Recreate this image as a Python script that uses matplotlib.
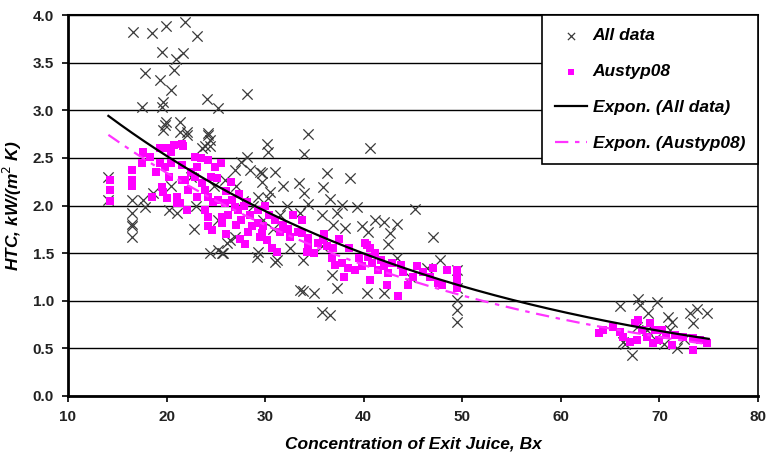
import numpy as np
import matplotlib
matplotlib.use("Agg")
from matplotlib import pyplot as plt

# All data (black crosses)
all_x = [16.6, 18.5, 19.9, 21.9, 23.1, 19.5, 21.7, 21.0, 20.75, 17.8, 19.3, 20.5, 24.1, 25.2, 28.2,
         17.5, 19.6, 19.5, 19.9, 21.4, 19.6, 24.2, 22.1, 24.4, 23.9, 30.2, 30.3, 28.2, 14.1, 14.1,
         16.5, 16.5, 17.6, 16.5, 16.5, 24.4, 25.2, 25.7, 26.4, 29.2, 29.3, 31.0, 33.5, 34.4, 33.9,
         36.3, 38.6, 33.4, 35.9, 33.9, 36.6, 34.3, 37.8, 39.3, 45.2, 40.6, 29.5, 31.0, 29.7, 30.5,
         29.3, 30.3, 35.8, 37.3, 36.9, 38.1, 39.8, 40.4, 31.5, 33.5, 31.2, 33.8, 35.8, 36.8, 33.8,
         35.0, 37.3, 40.3, 35.8, 36.6, 41.1, 42.1, 43.4, 42.7, 47.0, 42.5, 43.4, 47.7, 46.4, 44.7,
         42.1, 49.5, 49.5, 49.5, 49.5, 49.5, 66.0, 67.8, 68.0, 69.8, 68.8, 70.9, 71.3, 73.1, 73.8,
         74.8, 73.4, 66.3, 67.2, 71.8, 71.1, 68.7, 67.7, 19.8, 21.4, 22.1, 24.2, 24.4, 23.6, 27.6,
         28.5, 29.7, 26.9, 25.9, 18.6, 21.1, 20.5, 25.2, 26.1, 25.6, 26.9, 16.5, 17.8, 22.5, 23.0,
         24.8, 27.0, 27.8, 28.8, 31.8, 32.2, 30.8, 32.5, 29.8, 66.5, 69.5, 70.5, 72.5, 20.2, 22.8]
all_y = [3.82, 3.81, 3.89, 3.93, 3.78, 3.61, 3.60, 3.54, 3.42, 3.39, 3.32, 3.21, 3.12, 3.02, 3.17,
         3.03, 3.09, 3.03, 2.88, 2.88, 2.79, 2.76, 2.77, 2.69, 2.62, 2.65, 2.56, 2.51, 2.30, 2.06,
         2.06, 1.92, 2.06, 1.81, 1.67, 1.50, 1.53, 1.50, 1.64, 1.46, 1.51, 1.41, 1.11, 2.75, 2.54,
         2.34, 2.29, 2.24, 2.19, 2.13, 2.07, 2.02, 2.01, 1.98, 1.96, 2.60, 2.35, 2.35, 2.25, 2.14,
         2.09, 2.08, 1.90, 1.92, 1.80, 1.76, 1.79, 1.72, 1.90, 1.92, 1.43, 1.43, 1.57, 1.27, 1.10,
         1.08, 1.13, 1.08, 0.88, 0.85, 1.85, 1.83, 1.81, 1.71, 1.67, 1.60, 1.45, 1.43, 1.34, 1.25,
         1.08, 1.32, 1.13, 1.01, 0.90, 0.78, 0.94, 1.02, 0.96, 0.99, 0.87, 0.83, 0.78, 0.87, 0.91,
         0.87, 0.77, 0.57, 0.43, 0.50, 0.69, 0.69, 0.72, 2.85, 2.77, 2.74, 2.74, 2.63, 2.60, 2.46,
         2.37, 2.34, 2.37, 2.27, 2.13, 1.92, 2.20, 1.85, 1.61, 1.50, 1.67, 1.78, 1.98, 2.30, 2.00,
         2.20, 2.20, 2.05, 2.00, 2.20, 2.00, 1.75, 1.55, 1.85, 0.55, 0.60, 0.55, 0.60, 1.95, 1.75]

# Austyp08 (magenta squares)
aus_x = [14.3, 14.3, 14.3, 16.5, 16.5, 16.5, 17.5, 17.6, 18.3, 19.3, 19.5, 20.5, 20.8, 21.7, 19.8,
         19.5, 19.6, 18.5, 20.0, 21.1, 21.1, 21.6, 21.9, 20.5, 21.6, 22.9, 23.1, 22.9, 23.6, 23.9,
         24.2, 24.7, 25.2, 24.2, 24.9, 25.1, 23.9, 24.2, 25.9, 26.6, 26.9, 25.6, 24.2, 24.6, 25.6,
         27.2, 27.6, 28.5, 28.7, 29.3, 29.7, 28.3, 28.2, 23.1, 22.2, 21.4, 22.1, 29.3, 29.8, 29.5,
         30.2, 30.7, 31.2, 31.5, 32.5, 33.7, 33.7, 34.3, 34.3, 35.4, 35.9, 36.3, 36.9, 36.8, 37.1,
         37.8, 38.4, 39.1, 39.8, 40.1, 40.6, 34.2, 33.3, 40.3, 40.4, 40.6, 41.1, 41.8, 42.1, 42.5,
         42.9, 42.4, 43.5, 44.5, 45.4, 46.7, 47.0, 47.5, 47.9, 49.5, 49.5, 49.5, 49.5, 48.4, 41.4,
         40.8, 63.9, 64.3, 65.3, 66.0, 67.5, 67.8, 68.2, 69.0, 69.5, 67.7, 68.7, 70.0, 70.7, 71.6,
         72.4, 73.4, 74.1, 74.8, 73.4, 67.0, 69.3, 71.3, 66.3, 70.3, 26.0, 26.5, 27.3, 27.9, 26.2,
         27.0, 30.4, 31.0, 31.8, 32.3, 30.0, 32.8, 22.5, 23.5, 20.2, 18.9, 25.5, 24.5, 26.0, 27.5,
         28.0, 36.0, 37.5, 38.5, 35.0, 38.0, 39.5, 44.0, 45.0, 46.0, 43.8, 21.6, 20.3, 19.3, 17.6]
aus_y = [2.27, 2.16, 2.05, 2.37, 2.27, 2.20, 2.45, 2.55, 2.51, 2.45, 2.60, 2.56, 2.64, 2.62, 2.40,
         2.19, 2.14, 2.09, 2.08, 2.09, 2.03, 2.27, 2.27, 2.45, 2.43, 2.51, 2.40, 2.30, 2.24, 2.16,
         2.09, 2.04, 2.06, 2.48, 2.40, 2.29, 1.95, 1.88, 2.03, 2.06, 1.98, 1.88, 1.78, 1.74, 1.82,
         1.95, 1.85, 1.90, 1.78, 1.82, 1.71, 1.72, 2.04, 2.09, 2.16, 2.03, 1.95, 1.95, 1.78, 1.67,
         1.64, 1.55, 1.51, 1.72, 1.67, 1.85, 1.71, 1.66, 1.57, 1.61, 1.64, 1.57, 1.55, 1.45, 1.38,
         1.40, 1.34, 1.32, 1.36, 1.61, 1.55, 1.51, 1.72, 1.59, 1.46, 1.22, 1.50, 1.43, 1.36, 1.29,
         1.40, 1.17, 1.05, 1.17, 1.36, 1.25, 1.34, 1.19, 1.17, 1.32, 1.25, 1.19, 1.13, 1.32, 1.32,
         1.40, 0.66, 0.69, 0.72, 0.67, 0.77, 0.80, 0.69, 0.77, 0.69, 0.59, 0.62, 0.59, 0.64, 0.64,
         0.62, 0.61, 0.59, 0.56, 0.48, 0.57, 0.56, 0.54, 0.62, 0.69, 2.15, 2.25, 2.12, 2.00, 1.90,
         1.80, 1.90, 1.85, 1.80, 1.75, 2.00, 1.90, 2.35, 2.50, 2.30, 2.35, 2.45, 2.30, 1.70, 1.65,
         1.60, 1.70, 1.65, 1.55, 1.50, 1.25, 1.45, 1.30, 1.25, 1.30, 1.38, 2.65, 2.60, 2.60, 2.56]

# exponential trendlines  y = a * exp(b * x)
all_fit = (4.25, -0.0261)
aus_fit = (3.99, -0.0266)
fit_range = (14.1, 75.0)

plt.rcParams["font.family"] = ["Liberation Sans", "DejaVu Sans"]

fig = plt.figure(figsize=(7.68, 4.57), dpi=100)
ax = fig.add_axes([0.0885, 0.1335, 0.8985, 0.8335])

ax.scatter(all_x, all_y, marker="x", s=55, color="#3a3a3a", linewidths=0.9, zorder=3, label="All data")
ax.scatter(aus_x, aus_y, marker="s", s=30, color="#ff00ff", linewidths=0, zorder=4, label="Austyp08")

xx = np.linspace(fit_range[0], fit_range[1], 200)
ax.plot(xx, all_fit[0] * np.exp(all_fit[1] * xx), color="black", lw=1.6, zorder=5,
        label="Expon. (All data)")
ax.plot(xx, aus_fit[0] * np.exp(aus_fit[1] * xx), color="#ff33ff", lw=1.6, zorder=5,
        linestyle=(0, (6, 3, 2, 3)), label="Expon. (Austyp08)")

ax.set_xlim(10, 80)
ax.set_ylim(0, 4.0)
ax.set_xticks(np.arange(10, 81, 10))
ax.set_yticks(np.arange(0, 4.01, 0.5))
ax.set_yticklabels([f"{v:.1f}" for v in np.arange(0, 4.01, 0.5)])
ax.yaxis.grid(True, color="black", lw=1.0)
ax.set_axisbelow(True)

for side in ["left", "bottom"]:
    ax.spines[side].set_linewidth(2.0)
ax.spines["top"].set_linewidth(1.5)
ax.spines["right"].set_linewidth(1.2)
ax.tick_params(axis="both", direction="out", length=4, width=1.2, labelsize=11, pad=6,
               colors="black")
for lbl in ax.get_xticklabels() + ax.get_yticklabels():
    lbl.set_fontweight("bold")
    lbl.set_color("#222222")

ax.set_xlabel("Concentration of Exit Juice, Bx", fontsize=12.5, fontweight="bold",
              fontstyle="italic", labelpad=9)
ax.set_ylabel("HTC, kW/(m$^2$ K)", fontsize=12.5, fontweight="bold", fontstyle="italic",
              labelpad=6)

leg = ax.legend(loc="upper right", bbox_to_anchor=(1.0, 1.0), borderaxespad=0, frameon=True,
                fancybox=False, framealpha=1, edgecolor="black", labelspacing=1.2,
                handlelength=1.8, handletextpad=0.35, borderpad=0.75, markerscale=0.7,
                prop={"size": 12.5, "weight": "bold", "style": "italic"})
leg.get_frame().set_linewidth(1.2)
leg.set_zorder(10)

fig.savefig("out.png", dpi=100)
